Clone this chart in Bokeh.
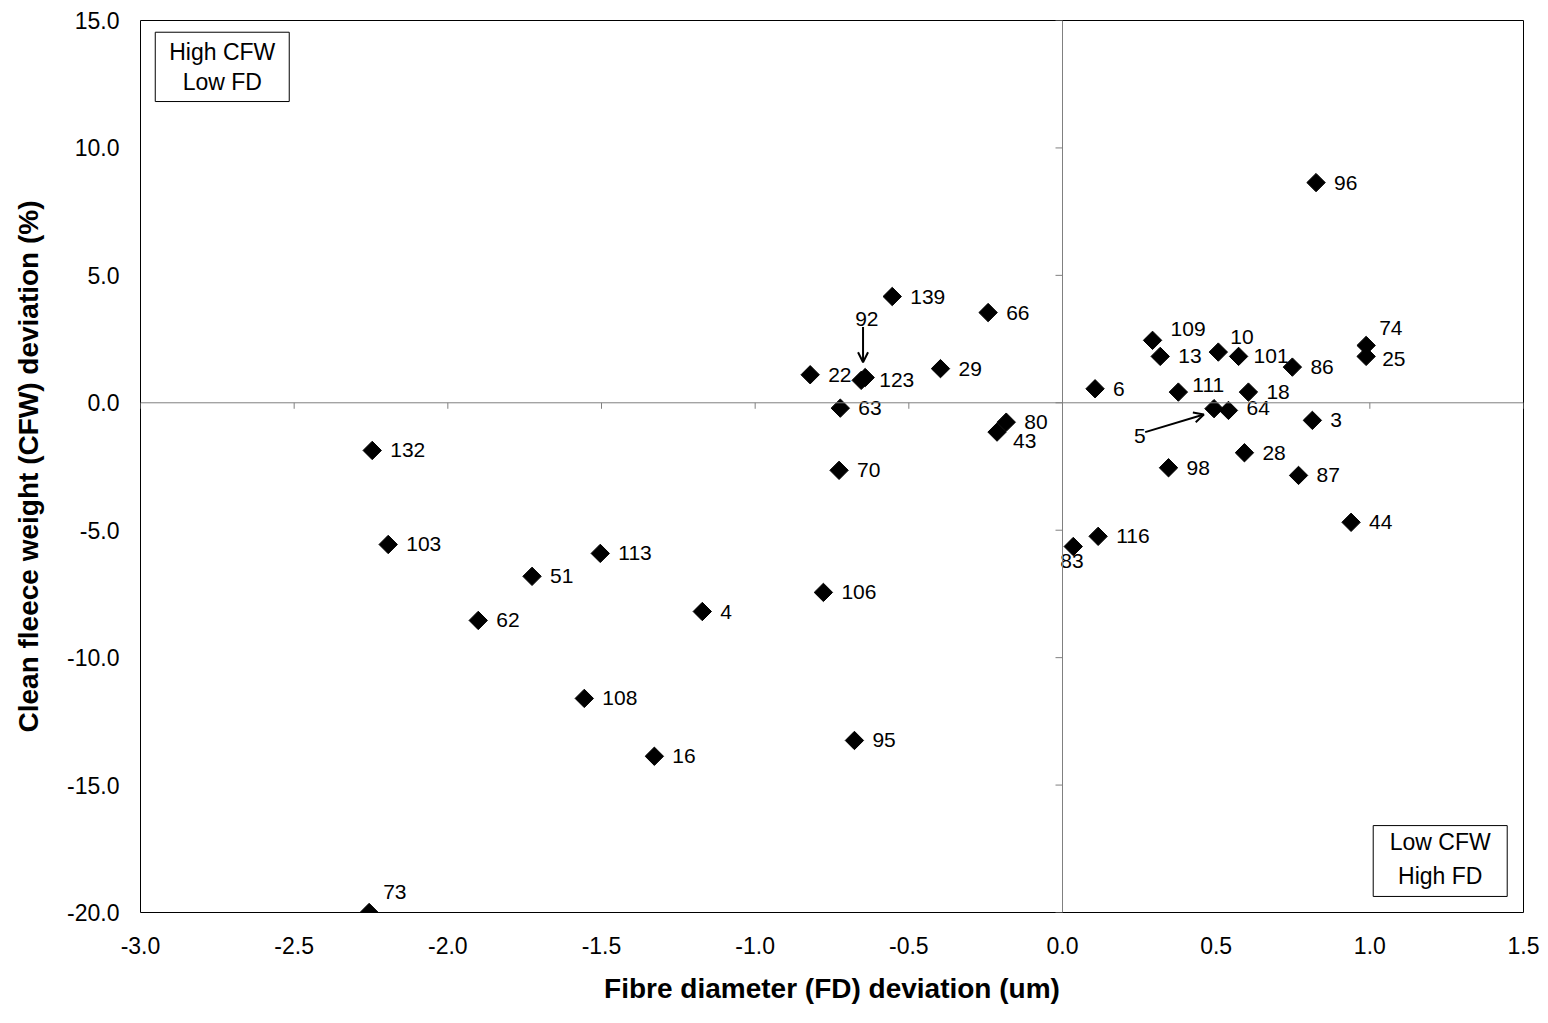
import numpy as np
from bokeh.plotting import figure
from bokeh.models import (ColumnDataSource, Span, Label, BoxAnnotation, Arrow,
                          OpenHead, FixedTicker, Range1d, NumeralTickFormatter)
from bokeh.embed import file_html
from bokeh.resources import INLINE
from bokeh.core.properties import value

# ---- data ----
ids = [96, 139, 66, 92, 123, 22, 29, 63, 80, 43, 70, 132, 103, 51, 113, 62, 4,
       106, 108, 16, 95, 73, 109, 13, 10, 101, 86, 6, 111, 18, 5, 64, 3, 28,
       98, 87, 74, 25, 44, 116, 83]
fd_dev = [0.825, -0.554, -0.242, -0.642, -0.655, -0.821, -0.397, -0.723, -0.183,
          -0.213, -0.727, -2.246, -2.194, -1.726, -1.504, -1.901, -1.172, -0.778,
          -1.556, -1.328, -0.677, -2.256, 0.293, 0.318, 0.507, 0.573, 0.748,
          0.106, 0.377, 0.605, 0.493, 0.540, 0.813, 0.592, 0.345, 0.768, 0.988,
          0.988, 0.939, 0.116, 0.035]
cfw_dev = [8.64, 4.17, 3.54, 0.99, 0.88, 1.10, 1.34, -0.21, -0.76, -1.15, -2.65,
           -1.87, -5.56, -6.81, -5.91, -8.54, -8.19, -7.44, -11.60, -13.87,
           -13.25, -20.0, 2.45, 1.82, 1.99, 1.82, 1.40, 0.55, 0.42, 0.42, -0.23,
           -0.30, -0.69, -1.96, -2.55, -2.85, 2.25, 1.82, -4.69, -5.24, -5.64]

x_ticks = [-3.0, -2.5, -2.0, -1.5, -1.0, -0.5, 0.0, 0.5, 1.0, 1.5]
y_ticks = [-20.0, -15.0, -10.0, -5.0, 0.0, 5.0, 10.0, 15.0]

# label placement (screen pixels, relative to point)
label_dx = {92: -10, 5: -80, 83: -13, 43: 16, 109: 18, 10: 12, 101: 15,
            111: 14, 64: 18, 74: 13, 25: 16, 73: 14}
label_dy = {92: -59, 5: 27, 83: 14, 43: 9, 109: -11, 10: -15, 111: -7,
            64: -2, 74: -17, 25: 3, 73: -21}

FONT = "Liberation Sans"

src = ColumnDataSource(dict(
    x=fd_dev, y=cfw_dev, lbl=[str(i) for i in ids],
    dx=[label_dx.get(i, 18) for i in ids],
    dy=[label_dy.get(i, 0) for i in ids],
))

p = figure(width=1540, height=1007,
           x_range=Range1d(-3.0, 1.5), y_range=Range1d(-20.0, 15.0),
           output_backend="svg", toolbar_location=None,
           min_border_left=140, min_border_right=17,
           min_border_top=20, min_border_bottom=95)
p.grid.visible = False
p.outline_line_color = "black"
p.outline_line_width = 1
p.outline_line_alpha = 1.0
p.background_fill_color = "white"
p.border_fill_color = "white"

for ax in (p.xaxis[0], p.yaxis[0]):
    ax.axis_line_color = None
    ax.major_tick_line_color = None
    ax.minor_tick_line_color = None
    ax.major_tick_in = 0
    ax.major_tick_out = 0
    ax.major_label_text_font = FONT
    ax.major_label_text_font_size = "23px"
    ax.major_label_text_color = "black"
    ax.axis_label_text_font = FONT
    ax.axis_label_text_font_size = "28px"
    ax.axis_label_text_font_style = "bold"
    ax.axis_label_text_color = "black"
    ax.formatter = NumeralTickFormatter(format="0.0")

p.xaxis.ticker = FixedTicker(ticks=x_ticks)
p.yaxis.ticker = FixedTicker(ticks=y_ticks)
p.xaxis.axis_label = "Fibre diameter (FD) deviation (um)"
p.yaxis.axis_label = "Clean fleece weight (CFW) deviation (%)"
p.xaxis.major_label_standoff = 24
p.xaxis.axis_label_standoff = 16
p.yaxis.major_label_standoff = 21
p.yaxis.axis_label_standoff = 20

# centre axes
p.add_layout(Span(location=0, dimension="height", line_color="#808080", line_width=1))
p.add_layout(Span(location=0, dimension="width", line_color="#808080", line_width=1))
p.ray(x=x_ticks, y=[0.0] * len(x_ticks), length=6, length_units="screen",
      angle=-np.pi / 2, line_color="#808080", line_width=1)
p.ray(x=[0.0] * len(y_ticks), y=y_ticks, length=7, length_units="screen",
      angle=np.pi, line_color="#808080", line_width=1)

# points
p.scatter("x", "y", source=src, marker="square", size=13, angle=np.pi / 4,
          fill_color="black", line_color="black")
p.text("x", "y", text="lbl", source=src, x_offset="dx", y_offset="dy",
       text_align="left", text_baseline="middle",
       text_font=value(FONT), text_font_size="21px", text_color="black")

# arrows
p.add_layout(Arrow(end=OpenHead(size=10, line_width=2, line_color="black"),
                   x_start=-0.649, y_start=2.97, x_end=-0.649, y_end=1.59,
                   line_width=2, line_color="black"))
p.add_layout(Arrow(end=OpenHead(size=10, line_width=2, line_color="black"),
                   x_start=0.269, y_start=-1.15, x_end=0.460, y_end=-0.46,
                   line_width=2, line_color="black"))

# quadrant boxes
p.add_layout(BoxAnnotation(left=-2.952, right=-2.516, top=14.54, bottom=11.82,
                           fill_color="white", fill_alpha=1.0,
                           line_color="black", line_width=1, line_alpha=1.0))
for txt, yy in (("High CFW", 13.76), ("Low FD", 12.58)):
    p.add_layout(Label(x=-2.734, y=yy, text=txt, text_align="center",
                       text_baseline="middle", text_font=FONT,
                       text_font_size="23px", text_color="black"))
p.add_layout(BoxAnnotation(left=1.011, right=1.447, top=-16.59, bottom=-19.37,
                           fill_color="white", fill_alpha=1.0,
                           line_color="black", line_width=1, line_alpha=1.0))
for txt, yy in (("Low CFW", -17.24), ("High FD", -18.55)):
    p.add_layout(Label(x=1.229, y=yy, text=txt, text_align="center",
                       text_baseline="middle", text_font=FONT,
                       text_font_size="23px", text_color="black"))

open("out.html", "w").write(file_html(p, INLINE))
